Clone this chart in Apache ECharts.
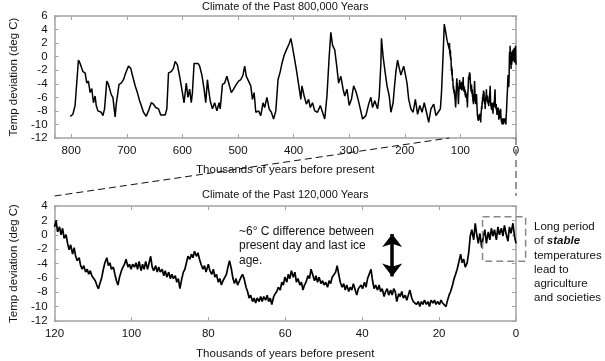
<!DOCTYPE html>
<html><head><meta charset="utf-8">
<script src="https://cdn.jsdelivr.net/npm/echarts@6/dist/echarts.min.js"></script>
<style>html,body{margin:0;padding:0;background:#fff}#c{width:605px;height:361px}</style>
</head><body><div id="c"></div>
<script>
// ---- Data (thousands of years before present, temperature deviation in deg C) ----
const oldRecord = [[801.6,-8.8],[797,-8.5],[793,-7.2],[787,-0.5],[784,-1.0],[779,-2.2],[775,-2.4],[772,-3.9],[769,-3.6],[766,-5.3],[763,-4.7],[760,-6.8],[757,-5.8],[755,-7.2],[752,-8.0],[746,-8.2],[743,-8.7],[740,-7.7],[736,-3.6],[733,-4.1],[728,-5.6],[725,-6.0],[721,-8.9],[719,-7.0],[714,-4.1],[710,-3.9],[706,-3.4],[702,-2.4],[697,-1.4],[693,-1.7],[690,-2.7],[685,-4.3],[681,-5.3],[677,-6.5],[674,-7.2],[670,-8.2],[665,-8.8],[661,-8.0],[656,-6.8],[652,-7.0],[648,-7.5],[643,-7.7],[639,-8.6],[631,-8.6],[628,-7.7],[625,-2.4],[620,-2.2],[616,-1.7],[613,-0.7],[609,-1.2],[605,-2.9],[601,-4.8],[597,-6.8],[593,-3.9],[590,-6.0],[587,-4.8],[584,-6.8],[582,-5.3],[579,-1.0],[576,-1.2],[572,-1.0],[569,-1.4],[565,-2.7],[561,-4.8],[558,-6.8],[555,-3.4],[553,-4.8],[550,-6.5],[546,-7.7],[542,-6.8],[538,-8.0],[534,-6.8],[532,-7.7],[528,-4.1],[524,-3.9],[520,-2.9],[516,-4.1],[512,-5.3],[508,-4.8],[503,-4.1],[499,-3.6],[495,-3.4],[491,-2.7],[488,-1.4],[485,-2.9],[481,-3.6],[477,-4.3],[474,-6.3],[471,-5.3],[468,-8.2],[463,-8.0],[459,-8.7],[455,-6.8],[452,-7.5],[448,-6.0],[444,-7.7],[440,-8.2],[436,-9.2],[432,-8.0],[428,-3.4],[424,-2.2],[421,-1.0],[417,0.2],[413,1.0],[408,1.9],[405,2.7],[403,1.9],[399,0],[395,-1.9],[391,-4.1],[387,-6.3],[385,-4.3],[381,-5.8],[377,-7.0],[373,-6.3],[370,-7.5],[366,-6.8],[362,-8.0],[357,-8.2],[352,-7.2],[348,-8.2],[344,-9.2],[340,-5.8],[336,0],[333,3.6],[330,1.7],[326,1.0],[323,-1.0],[319,-3.9],[315,-2.9],[311,-4.8],[308,-5.8],[304,-4.8],[300,-7.2],[296,-6.3],[292,-4.3],[288,-5.1],[284,-6.3],[280,-7.7],[276,-9.2],[270,-8.7],[265,-7.0],[261,-6.0],[258,-7.5],[254,-6.5],[249,-7.7],[246,-5.8],[243,-1.0],[242,2.7],[239,0],[236,-1.9],[232,-4.3],[228,-5.8],[225,-8.2],[221,-6.8],[219,-4.8],[216,-2.2],[213,-0.5],[210,-1.7],[207,-2.7],[202,-1.4],[200,-2.2],[196,-3.9],[193,-6.3],[189,-7.7],[185,-8.2],[181,-6.3],[177,-8.5],[173,-7.2],[169,-8.2],[165,-6.8],[161,-8.2],[157,-9.7],[153,-7.7],[148,-7.0],[144,-8.7],[140,-8.2],[136,-7.7],[134,-5.3],[131,0.5],[129,4.8],[127,3.9],[124,2.4]];

const recentRecord = [[120,1.1],[119.6,2.0],[119.2,0.4],[118.7,1.1],[118.3,0],[117.9,0.9],[117.5,-0.5],[117.0,0],[116.6,-1.2],[116.2,-2.1],[115.8,-1.4],[115.3,-2.7],[114.9,-1.8],[114.5,-3.0],[114.1,-3.6],[113.6,-3.2],[113.2,-4.3],[112.8,-4.8],[112.4,-4.3],[111.9,-5.2],[111.5,-4.8],[111.1,-5.5],[110.7,-5.0],[110.3,-5.7],[109.8,-5.5],[109.4,-6.4],[109.0,-7.0],[108.6,-7.5],[108.1,-6.6],[107.7,-5.9],[107.3,-4.8],[106.9,-3.9],[106.4,-3.2],[106.0,-4.3],[105.6,-3.9],[105.2,-4.8],[104.7,-4.5],[104.3,-5.5],[103.9,-6.4],[103.5,-7.0],[103.1,-5.9],[102.6,-5.0],[102.2,-4.5],[101.8,-4.1],[101.4,-3.4],[100.9,-4.5],[100.5,-4.1],[100.1,-4.8],[99.7,-4.1],[99.2,-4.5],[98.8,-3.9],[98.4,-4.8],[98.0,-3.7],[97.5,-5.0],[97.1,-4.1],[96.7,-4.8],[96.3,-3.7],[95.8,-4.8],[95.4,-3.9],[95.0,-3.0],[94.6,-4.5],[94.2,-5.0],[93.7,-4.3],[93.3,-5.2],[92.9,-4.5],[92.5,-5.2],[92.0,-4.8],[91.6,-5.7],[91.2,-5.0],[90.8,-5.9],[90.3,-5.2],[89.9,-6.1],[89.5,-5.5],[89.1,-6.1],[88.6,-5.7],[88.2,-6.6],[87.8,-6.1],[87.4,-7.5],[86.9,-6.1],[86.5,-5.2],[86.1,-4.8],[85.7,-3.9],[85.3,-3.0],[84.8,-3.4],[84.4,-2.7],[84.0,-3.2],[83.6,-2.3],[83.1,-3.0],[82.7,-2.5],[82.3,-3.4],[81.9,-4.1],[81.4,-4.8],[81.0,-4.3],[80.6,-5.2],[80.0,-4.1],[79.6,-5.0],[79.1,-5.5],[78.7,-4.8],[78.3,-5.9],[77.9,-5.5],[77.4,-6.6],[77.0,-6.1],[76.6,-7.0],[76.2,-6.4],[75.7,-6.6],[75.3,-5.5],[74.9,-4.5],[74.5,-3.6],[74.0,-4.8],[73.6,-6.1],[73.2,-6.8],[72.8,-6.1],[72.4,-7.0],[71.9,-6.4],[71.5,-5.9],[71.1,-5.5],[70.7,-6.1],[70.2,-7.3],[69.8,-7.9],[69.4,-8.8],[69.0,-8.4],[68.5,-9.3],[68.1,-8.8],[67.7,-9.5],[67.3,-8.8],[66.8,-9.3],[66.4,-8.6],[66.0,-9.3],[65.6,-8.6],[65.1,-9.1],[64.7,-8.4],[64.3,-9.3],[63.9,-8.8],[63.5,-9.7],[63.0,-8.6],[62.6,-8.2],[62.2,-7.9],[61.8,-7.3],[61.3,-7.7],[60.9,-6.6],[60.5,-7.0],[60.1,-5.9],[59.6,-6.6],[59.2,-5.5],[58.8,-6.1],[58.4,-5.0],[57.9,-5.9],[57.5,-5.2],[57.1,-6.6],[56.7,-6.1],[56.2,-7.0],[55.8,-6.6],[55.4,-7.7],[55.0,-7.0],[54.6,-6.6],[54.1,-5.7],[53.7,-6.1],[53.3,-4.8],[52.9,-5.5],[52.4,-6.4],[52.0,-5.7],[51.6,-6.6],[51.2,-5.9],[50.7,-6.8],[50.3,-6.4],[49.9,-7.0],[49.5,-6.6],[49.0,-7.3],[48.6,-6.4],[48.2,-6.8],[47.8,-5.9],[47.3,-6.1],[46.9,-5.2],[46.5,-4.3],[46.1,-5.5],[45.7,-6.6],[45.2,-7.3],[44.8,-6.8],[44.4,-7.7],[44.0,-7.0],[43.5,-7.9],[43.1,-7.3],[42.7,-7.7],[42.3,-6.8],[41.8,-7.7],[41.4,-8.4],[41.0,-7.5],[40.7,-7.7],[40.3,-7.0],[39.9,-7.5],[39.4,-6.6],[39.0,-7.3],[38.6,-6.1],[38.2,-5.9],[37.7,-4.8],[37.3,-6.4],[36.9,-7.5],[36.5,-7.0],[36.0,-7.7],[35.6,-7.0],[35.2,-7.9],[34.8,-7.5],[34.3,-8.6],[33.9,-7.9],[33.5,-7.5],[33.1,-8.4],[32.6,-7.7],[32.2,-8.4],[31.8,-7.5],[31.4,-7.9],[31.0,-9.3],[30.5,-8.2],[30.1,-8.6],[29.7,-7.9],[29.3,-8.8],[28.8,-8.4],[28.4,-9.1],[28.0,-8.4],[27.6,-7.7],[27.1,-8.8],[26.7,-9.3],[26.3,-9.1],[25.9,-9.7],[25.4,-9.3],[25.0,-10.0],[24.6,-9.3],[24.2,-9.7],[23.8,-9.1],[23.3,-9.7],[22.9,-9.3],[22.5,-10.0],[22.1,-9.1],[21.6,-9.5],[21.2,-9.1],[20.8,-9.7],[20.4,-9.3],[19.9,-9.7],[19.5,-9.1],[19.1,-9.5],[18.7,-9.3],[18.2,-10.0],[17.8,-9.1],[17.4,-8.4],[17.0,-7.9],[16.5,-7.0],[16.1,-6.1],[15.7,-5.5],[15.3,-4.8],[14.9,-3.9],[14.4,-2.7],[14.0,-3.9],[13.6,-3.4],[13.2,-4.5],[12.7,-3.9],[12.3,-2.5],[11.9,-0.2],[11.5,0.7],[11.0,-0.7],[10.6,1.6],[10.2,0],[9.8,-1.2],[9.4,0.2],[8.9,-1.8],[8.5,-0.2],[8.1,0.7],[7.7,-1.2],[7.2,0.4],[6.8,-0.7],[6.4,0.9],[6.0,-0.2],[5.6,0.7],[5.1,-0.7],[4.7,1.1],[4.3,0],[3.8,0.9],[3.4,-0.2],[3.0,1.3],[2.6,0.2],[2.1,-0.9],[1.7,1.1],[1.3,0.2],[0.8,1.6],[0.4,-0.2],[0,-1.2]];

// Tick labels
const topAgeTicks = [0, 100, 200, 300, 400, 500, 600, 700, 800];
const topAgeMax = 830;
const topTempTicks = [-12, -10, -8, -6, -4, -2, 0, 2, 4, 6];
const recentAgeTicks = [0, 20, 40, 60, 80, 100, 120];
const recentTempTicks = [-12, -10, -8, -6, -4, -2, 0, 2, 4];

// Annotations (data units)
const arrowAge = 32.2, arrowTop = 0.1, arrowBottom = -5.8;
const stableBox = {ageFrom: 8.7, ageTo: -2.5, tempHigh: 2.5, tempLow: -3.7};

const titles = ['Climate of the Past 800,000 Years', 'Climate of the Past 120,000 Years'];
const xName = 'Thousands of years before present';
const yName = 'Temp deviation (deg C)';
const noteLeft = '~6\u00b0 C difference between\npresent day and last ice\nage.';
const noteRight = 'Long period\nof {b|stable}\ntemperatures\nlead to\nagriculture\nand societies';

// ---- Chart ----
const FONT = "'Liberation Sans', Arial, Helvetica, sans-serif";
const FRAME = '#a3a3a3';
const TXT = '#111';
const step = a => a[1] - a[0];

function ax(extra) {
  return Object.assign({
    type: 'value',
    axisLine: {show: true, onZero: false, lineStyle: {color: FRAME, width: 1.5}},
    axisTick: {show: true, inside: true, length: 4, lineStyle: {color: FRAME, width: 1}},
    splitLine: {show: false},
    axisLabel: {show: false}
  }, extra);
}
const lbl = (fmt) => ({show: true, fontSize: 11.5, color: TXT, fontFamily: FONT, margin: 7, formatter: fmt});
const nameStyle = {fontSize: 11.5, color: TXT, fontFamily: FONT};
const tickFmt = ticks => (v => ticks.indexOf(v) >= 0 ? String(v) : '');

const chart = echarts.init(document.getElementById('c'), null, {renderer: 'canvas'});
chart.setOption({
  animation: false,
  backgroundColor: '#fff',
  grid: [
    {left: 44, top: 16, width: 472, height: 122, containLabel: false},
    {left: 44, top: 206, width: 472, height: 118, containLabel: false}
  ],
  xAxis: [
    ax({gridIndex: 0, position: 'bottom', inverse: true, min: topAgeTicks[0], max: topAgeMax, interval: step(topAgeTicks),
        axisLabel: lbl(tickFmt(topAgeTicks)), name: xName, nameLocation: 'middle', nameGap: 26, nameTextStyle: nameStyle}),
    ax({gridIndex: 0, position: 'top', inverse: true, min: topAgeTicks[0], max: topAgeMax, interval: step(topAgeTicks)}),
    ax({gridIndex: 1, position: 'bottom', inverse: true, min: recentAgeTicks[0], max: recentAgeTicks[recentAgeTicks.length-1], interval: step(recentAgeTicks),
        axisLabel: lbl(tickFmt(recentAgeTicks)), name: xName, nameLocation: 'middle', nameGap: 27, nameTextStyle: nameStyle}),
    ax({gridIndex: 1, position: 'top', inverse: true, min: recentAgeTicks[0], max: recentAgeTicks[recentAgeTicks.length-1], interval: step(recentAgeTicks)})
  ],
  yAxis: [
    ax({gridIndex: 0, position: 'left', min: topTempTicks[0], max: topTempTicks[topTempTicks.length-1], interval: step(topTempTicks),
        axisLabel: lbl(tickFmt(topTempTicks)), name: yName, nameLocation: 'middle', nameGap: 29, nameTextStyle: nameStyle}),
    ax({gridIndex: 0, position: 'right', min: topTempTicks[0], max: topTempTicks[topTempTicks.length-1], interval: step(topTempTicks)}),
    ax({gridIndex: 1, position: 'left', min: recentTempTicks[0], max: recentTempTicks[recentTempTicks.length-1], interval: step(recentTempTicks),
        axisLabel: lbl(tickFmt(recentTempTicks)), name: yName, nameLocation: 'middle', nameGap: 29, nameTextStyle: nameStyle}),
    ax({gridIndex: 1, position: 'right', min: recentTempTicks[0], max: recentTempTicks[recentTempTicks.length-1], interval: step(recentTempTicks)})
  ],
  series: [
    {type: 'line', xAxisIndex: 0, yAxisIndex: 0, data: oldRecord.concat(recentRecord), showSymbol: false, symbol: 'none',
     lineStyle: {color: '#000', width: 1.5}, silent: true, clip: true},
    {type: 'line', xAxisIndex: 2, yAxisIndex: 2, data: recentRecord, showSymbol: false, symbol: 'none',
     lineStyle: {color: '#000', width: 1.7}, silent: true, clip: true,
     markLine: {silent: true, symbol: ['arrow', 'arrow'], symbolSize: [15, 13], label: {show: false},
       lineStyle: {color: '#000', width: 3.5, type: 'solid'}, emphasis: {disabled: true}, animation: false,
       data: [[{coord: [arrowAge, arrowTop]}, {coord: [arrowAge, arrowBottom]}]]}}
  ]
});

// Annotation overlay positioned through the axes
const px = (s, v) => chart.convertToPixel({seriesIndex: s}, v);
const tl0 = px(0, [topAgeMax, topTempTicks[topTempTicks.length-1]]);
const br0 = px(0, [0, topTempTicks[0]]);
const tl1 = px(1, [recentAgeTicks[recentAgeTicks.length-1], recentTempTicks[recentTempTicks.length-1]]);
const zoomTop = px(0, [recentAgeTicks[recentAgeTicks.length-1], topTempTicks[0]]);
const cx = (tl0[0] + br0[0]) / 2;
const linkY = tl1[1] - 10;
const b1 = px(1, [stableBox.ageFrom, stableBox.tempHigh]);
const b2 = px(1, [stableBox.ageTo, stableBox.tempLow]);

chart.setOption({
  graphic: [
    {type: 'text', x: cx, y: 1, style: {text: titles[0], fill: TXT, fontSize: 11, fontFamily: FONT, align: 'center', verticalAlign: 'top'}},
    {type: 'text', x: cx, y: tl1[1] - 17, style: {text: titles[1], fill: TXT, fontSize: 11, fontFamily: FONT, align: 'center', verticalAlign: 'top'}},
    {type: 'line', shape: {x1: tl1[0], y1: linkY, x2: zoomTop[0], y2: zoomTop[1]},
     style: {stroke: '#111', lineWidth: 1, lineDash: [7, 4]}, z: 50},
    {type: 'line', shape: {x1: br0[0], y1: br0[1], x2: br0[0], y2: linkY},
     style: {stroke: '#777', lineWidth: 1.5, lineDash: [7, 4]}, z: 50},
    {type: 'rect', shape: {x: b1[0], y: b1[1], width: b2[0] - b1[0], height: b2[1] - b1[1]},
     style: {fill: 'none', stroke: '#888', lineWidth: 1.5, lineDash: [7, 4]}, z: 50},
    {type: 'text', x: 239, y: 224.5, style: {text: noteLeft, fill: TXT, fontSize: 12, fontFamily: FONT, lineHeight: 14.3, align: 'left', verticalAlign: 'top'}, z: 50},
    {type: 'text', x: 534, y: 220, style: {text: noteRight, fill: TXT, fontSize: 11.5, fontFamily: FONT, lineHeight: 14.2, align: 'left', verticalAlign: 'top',
      rich: {b: {fontWeight: 'bold', fontStyle: 'italic', fontSize: 11.5, fontFamily: FONT, lineHeight: 14.2, fill: TXT}}}, z: 50}
  ]
});
</script>
</body></html>
